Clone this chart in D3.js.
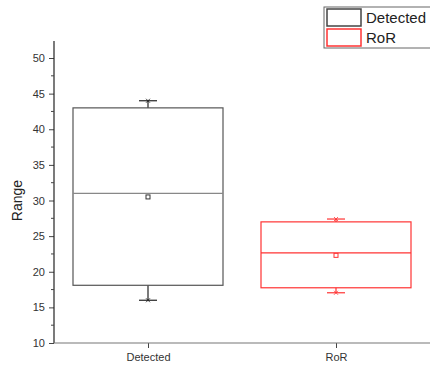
<!DOCTYPE html>
<html><head><meta charset="utf-8">
<script src="https://cdn.jsdelivr.net/npm/d3@7"></script>
<style>body{margin:0;background:#fff}svg{display:block}</style>
</head><body>
<script>
const categories = ["Detected", "RoR"];
const q1 = [18.1, 17.75];
const median = [31.0, 22.65];
const q3 = [43.0, 27.0];
const whiskerLow = [16.0, 17.05];
const whiskerHigh = [44.0, 27.4];
const means = [30.5, 22.3];
const colors = ["#555555", "#ff3333"];
const yTicks = [10, 15, 20, 25, 30, 35, 40, 45, 50];

const W = 430, H = 367;
const svg = d3.select("body").append("svg").attr("width", W).attr("height", H);

const y = d3.scaleLinear().domain([10, 50]).range([343, 58]);
const x = d3.scalePoint().domain(categories).range([148, 336]);
const boxW = 150;

// y axis
const yAxis = d3.axisLeft(y).tickValues(yTicks).tickSize(5).tickSizeOuter(0).tickPadding(4);
const gy = svg.append("g").attr("transform", "translate(54,0)").call(yAxis);
gy.select(".domain").remove();
gy.append("line").attr("x1", 0).attr("x2", 0).attr("y1", y(52.4)).attr("y2", y(10)).attr("stroke", "#222").attr("stroke-width", 1.2);
gy.selectAll(".tick line").attr("stroke", "#444");
gy.selectAll(".tick text").attr("font-family", "Liberation Sans, Arial, sans-serif").attr("font-size", 11).attr("fill", "#333");
// minor ticks
const minor = d3.range(12.5, 52.4, 5);
gy.selectAll(".minor").data(minor).enter().append("line")
  .attr("x1", -3).attr("x2", 0).attr("y1", d => y(d)).attr("y2", d => y(d)).attr("stroke", "#444");

// x axis
const xAxis = d3.axisBottom(x).tickSize(5).tickSizeOuter(0).tickPadding(5);
const gx = svg.append("g").attr("transform", `translate(0,${y(10)})`).call(xAxis);
gx.select(".domain").remove();
gx.append("line").attr("x1", 54).attr("x2", W).attr("y1", 0).attr("y2", 0).attr("stroke", "#777").attr("stroke-width", 1.2);
gx.selectAll(".tick line").attr("stroke", "#444");
gx.selectAll(".tick text").attr("font-family", "Liberation Sans, Arial, sans-serif").attr("font-size", 11).attr("fill", "#333");

// y label
svg.append("text").attr("transform", `translate(22,${y(30)}) rotate(-90)`)
  .attr("text-anchor", "middle").attr("font-family", "Liberation Sans, Arial, sans-serif")
  .attr("font-size", 14).attr("fill", "#222").text("Range");

// boxes
categories.forEach((c, i) => {
  const cx = x(c), col = colors[i];
  const g = svg.append("g");
  // whiskers
  g.append("line").attr("x1", cx).attr("x2", cx).attr("y1", y(q3[i])).attr("y2", y(whiskerHigh[i])).attr("stroke", i ? col : "#222").attr("stroke-width", 1.2);
  g.append("line").attr("x1", cx).attr("x2", cx).attr("y1", y(q1[i])).attr("y2", y(whiskerLow[i])).attr("stroke", i ? col : "#222").attr("stroke-width", 1.2);
  [whiskerHigh[i], whiskerLow[i]].forEach(v => {
    g.append("line").attr("x1", cx - 9).attr("x2", cx + 9).attr("y1", y(v)).attr("y2", y(v)).attr("stroke", i ? col : "#222").attr("stroke-width", 1.2);
    g.append("path").attr("d", `M${cx - 2},${y(v) - 2}L${cx + 2},${y(v) + 2}M${cx + 2},${y(v) - 2}L${cx - 2},${y(v) + 2}`).attr("stroke", i ? col : "#222").attr("stroke-width", 0.8);
  });
  g.append("rect").attr("x", cx - boxW / 2).attr("y", y(q3[i])).attr("width", boxW).attr("height", y(q1[i]) - y(q3[i]))
    .attr("fill", "none").attr("stroke", col).attr("stroke-width", 1.2);
  g.append("line").attr("x1", cx - boxW / 2).attr("x2", cx + boxW / 2).attr("y1", y(median[i])).attr("y2", y(median[i])).attr("stroke", i ? col : "#888").attr("stroke-width", 1.2);
  g.append("rect").attr("x", cx - 2).attr("y", y(means[i]) - 2).attr("width", 4).attr("height", 4)
    .attr("fill", "#fff").attr("stroke", i ? col : "#333").attr("stroke-width", 1);
});

// legend
const lg = svg.append("g");
lg.append("rect").attr("x", 324).attr("y", 7).attr("width", 110).attr("height", 41).attr("fill", "#fff").attr("stroke", "#666").attr("stroke-width", 1);
categories.forEach((c, i) => {
  const yy = 9 + i * 20;
  lg.append("rect").attr("x", 327).attr("y", yy).attr("width", 34).attr("height", 17).attr("fill", "#fff").attr("stroke", i ? colors[i] : "#444").attr("stroke-width", 1.5);
  lg.append("text").attr("x", 366).attr("y", yy + 14).attr("font-family", "Liberation Sans, Arial, sans-serif").attr("font-size", 15).attr("fill", "#222").text(c);
});
</script>
</body></html>
